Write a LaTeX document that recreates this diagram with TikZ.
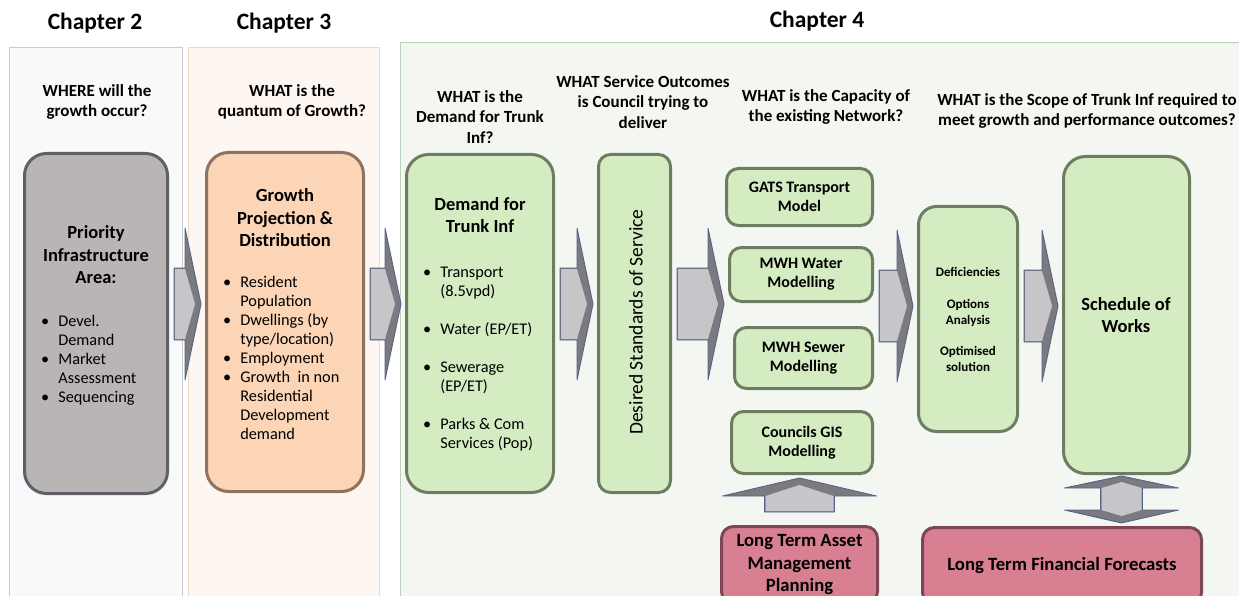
\documentclass[tikz,border=0pt]{standalone}
\usepackage{fontspec}
\setmainfont{Carlito}
\usetikzlibrary{positioning,calc}
\definecolor{piafill}{HTML}{B9B5B4}
\definecolor{pialine}{HTML}{5F6166}
\definecolor{peachfill}{HTML}{FBD5B5}
\definecolor{peachline}{HTML}{8F7361}
\definecolor{greenfill}{HTML}{D5EBC1}
\definecolor{greenline}{HTML}{6D7D62}
\definecolor{pinkfill}{HTML}{D97F92}
\definecolor{pinkline}{HTML}{7B4756}
\definecolor{arrowfill}{HTML}{C6C6CA}
\definecolor{arrowdark}{HTML}{7A7A80}
\definecolor{arrowline}{HTML}{55658A}
\definecolor{chtwo}{HTML}{F8F9FA}
\definecolor{chthree}{HTML}{FDF6F1}
\definecolor{chfour}{HTML}{F4F7F1}
\newcommand{\blist}[1]{\begin{tabular}[t]{@{}l@{\hspace{9pt}}l@{}}#1\end{tabular}}
% block arrow from one box to the next, #3 = height of its middle
\newcommand{\flowarrow}[3]{%
  \filldraw[flowarrow] let \p1=(#1.east), \p2=(#2.west), \p3=(0,#3) in
    (\x1+5pt,\y3+36pt) -- (\x2-20pt,\y3+36pt) -- (\x2-20pt,\y3+76pt) -- (\x2-4pt,\y3)
    -- (\x2-20pt,\y3-76pt) -- (\x2-20pt,\y3-36pt) -- (\x1+5pt,\y3-36pt) -- cycle;
  \fill[arrowfill] let \p1=(#1.east), \p2=(#2.west), \p3=(0,#3) in
    (\x1+6pt,\y3+35pt) -- (\x2-20pt,\y3+35pt) -- (\x2-10pt,\y3) -- (\x2-20pt,\y3-35pt)
    -- (\x1+6pt,\y3-35pt) -- cycle;}

\begin{document}
\begin{tikzpicture}[x=1pt,y=-1pt,
  panel/.style={draw, line width=0.8pt, inner sep=0pt},
  chapter/.style={font=\fontsize{23.5}{27}\selectfont\bfseries},
  question/.style={align=center, font=\fontsize{17}{20.5}\selectfont\bfseries},
  box/.style={draw, line width=3pt, inner sep=0pt},
  boxtitle/.style={align=center, font=\fontsize{18.5}{22.5}\selectfont\bfseries},
  bullets/.style={anchor=base west, inner sep=0pt, font=\fontsize{16.3}{19}\selectfont},
  model/.style={box, fill=greenfill, draw=greenline, rounded corners=12pt,
    align=center, font=\fontsize{16}{19}\selectfont\bfseries},
  pinkbox/.style={box, fill=pinkfill, draw=pinkline, rounded corners=12pt,
    align=center, font=\fontsize{18.7}{22.5}\selectfont\bfseries},
  flowarrow/.style={fill=arrowdark, draw=arrowline, line width=0.9pt, line join=round}]
\useasboundingbox (0,0) rectangle (1239,596);
\clip (0,0) rectangle (1239,596);
\fill[white] (0,0) rectangle (1239,596);

% chapter panels
\node[panel, fill=chtwo, draw=gray!40, minimum width=173, minimum height=560] (ch2panel) at (95.5,327) {};
\node[panel, fill=chthree, draw=orange!25!brown!30, minimum width=191, minimum height=560] (ch3panel) at (283.5,327) {};
\node[panel, fill=chfour, draw=green!20!gray!45, minimum width=850, minimum height=566] (ch4panel) at (825,325) {};

\node[chapter] (ch2) at (95,23) {Chapter 2};
\node[chapter] (ch3) at (284,23) {Chapter 3};
\node[chapter] (ch4) at (817,21) {Chapter 4};

% questions
\node[question] (qwhere) at (97,102) {WHERE will the\\growth occur?};
\node[question] (qgrowth) at (292,102) {WHAT is the\\quantum of Growth?};
\node[question] (qdemand) at (480,117) {WHAT is the\\Demand for Trunk\\Inf?};
\node[question] (qservice) at (643,102) {WHAT Service Outcomes\\is Council trying to\\deliver};
\node[question] (qcapacity) at (826,107) {WHAT is the Capacity of\\the existing Network?};
\node[question] (qscope) at (1087,111) {WHAT is the Scope of Trunk Inf required to\\meet growth and performance outcomes?};

% boxes
\node[box, fill=piafill, draw=pialine, rounded corners=22pt, minimum width=143, minimum height=340] (pia) at (96,323.5) {};
\node[boxtitle] (piatitle) at (96,255) {Priority\\Infrastructure\\Area:};
\node[bullets] (pialist) at (41,326) {\blist{\textbullet & Devel.\\ & Demand\\ \textbullet & Market\\ & Assessment\\ \textbullet & Sequencing}};

\node[box, fill=peachfill, draw=peachline, rounded corners=22pt, minimum width=157, minimum height=339] (growth) at (285,322) {};
\node[boxtitle] (growthtitle) at (285,218) {Growth\\Projection \&\\Distribution};
\node[bullets] (growthlist) at (223,287) {\blist{\textbullet & Resident\\ & Population\\ \textbullet & Dwellings (by\\ & type/location)\\ \textbullet & Employment\\ \textbullet & Growth\ \ in non\\ & Residential\\ & Development\\ & demand}};

\node[box, fill=greenfill, draw=greenline, rounded corners=22pt, minimum width=147, minimum height=338] (demand) at (480,323.5) {};
\node[boxtitle] (demandtitle) at (480,215) {Demand for\\Trunk Inf};
\node[bullets] (demandlist) at (423,277) {\blist{\textbullet & Transport\\ & (8.5vpd)\\[19pt] \textbullet & Water (EP/ET)\\[19pt] \textbullet & Sewerage\\ & (EP/ET)\\[19pt] \textbullet & Parks \& Com\\ & Services (Pop)}};

\node[box, fill=greenfill, draw=greenline, rounded corners=12pt, minimum width=72, minimum height=338] (dss) at (634.5,323.5) {};
\node[rotate=90, font=\fontsize{19.5}{22}\selectfont] (dsstext) at (636,322) {Desired Standards of Service};

\node[model, minimum width=146, minimum height=57] (gats) at (799.5,197) {GATS Transport\\Model};
\node[model, minimum width=143, minimum height=54] (water) at (801,274.5) {MWH Water\\Modelling};
\node[model, minimum width=138, minimum height=61] (sewer) at (803.5,358) {MWH Sewer\\Modelling};
\node[model, minimum width=141, minimum height=62] (gis) at (802,442.5) {Councils GIS\\Modelling};

\node[box, fill=greenfill, draw=greenline, rounded corners=18pt, minimum width=99, minimum height=225,
  align=center, font=\fontsize{13}{16}\selectfont\bfseries] (deficiencies) at (968,319)
  {Deficiencies\\[16pt]Options\\Analysis\\[15pt]Optimised\\solution};

\node[box, fill=greenfill, draw=greenline, rounded corners=22pt, minimum width=126, minimum height=317] (schedule) at (1126.5,315) {};
\node[boxtitle] (scheduletitle) at (1126,315) {Schedule of\\Works};

\node[pinkbox, minimum width=156, minimum height=77] (ltamp) at (799.5,565) {Long Term Asset\\Management\\Planning};
\node[pinkbox, minimum width=279, minimum height=77] (ltff) at (1062,566) {Long Term Financial Forecasts};

% arrows between the steps
\flowarrow{pia}{growth}{304}
\flowarrow{growth}{demand}{304}
\flowarrow{demand}{dss}{304}
\flowarrow{dss}{water}{304}
\flowarrow{water}{deficiencies}{306}
\flowarrow{deficiencies}{schedule}{306}

% asset planning feeds the models
\filldraw[flowarrow] let \p1=(ltamp.north), \p2=(gis.south) in
  (\x1-35pt,\y1+13pt) -- (\x1-35pt,\y2-21pt) -- (\x1-77pt,\y2-21pt) -- (\x1,\y2-3pt)
  -- (\x1+77pt,\y2-21pt) -- (\x1+35pt,\y2-21pt) -- (\x1+35pt,\y1+13pt) -- cycle;
\fill[arrowfill] let \p1=(ltamp.north), \p2=(gis.south) in
  (\x1-34pt,\y1+14pt) -- (\x1-34pt,\y2-21pt) -- (\x1,\y2-10pt) -- (\x1+34pt,\y2-21pt)
  -- (\x1+34pt,\y1+14pt) -- cycle;

% schedule <-> financial forecasts
\filldraw[flowarrow] let \p1=($(schedule.south)+(-5,0)$), \p2=(ltff.north) in
  (\x1,\y1-1pt) -- (\x1+57pt,\y1-13pt) -- (\x1+21pt,\y1-13pt) -- (\x1+21pt,\y2+16pt)
  -- (\x1+57pt,\y2+16pt) -- (\x1,\y2+3pt) -- (\x1-57pt,\y2+16pt) -- (\x1-21pt,\y2+16pt)
  -- (\x1-21pt,\y1-13pt) -- (\x1-57pt,\y1-13pt) -- cycle;
\fill[arrowfill] let \p1=($(schedule.south)+(-5,0)$), \p2=(ltff.north) in
  (\x1-20pt,\y1-13pt) -- (\x1,\y1-7pt) -- (\x1+20pt,\y1-13pt) -- (\x1+20pt,\y2+16pt)
  -- (\x1,\y2+10pt) -- (\x1-20pt,\y2+16pt) -- cycle;
\end{tikzpicture}
\end{document}
